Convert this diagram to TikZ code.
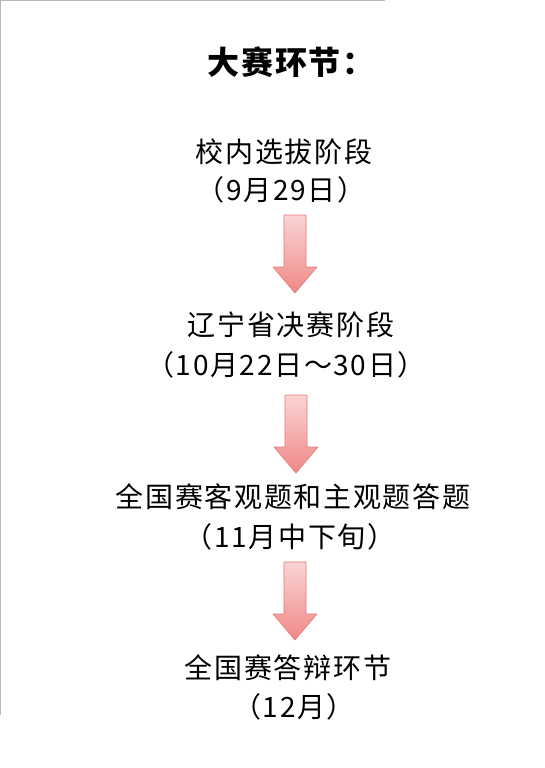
\documentclass[tikz,border=0pt]{standalone}
\usepackage{fontspec}
\newfontfamily\cjk[LetterSpace=6]{Noto Sans CJK SC}
\definecolor{arrowtop}{RGB}{250,212,212}
\definecolor{arrowbot}{RGB}{240,136,136}
\definecolor{arrowline}{RGB}{226,120,120}
\tikzset{
  stage/.style={font=\cjk\fontsize{28}{31}\selectfont, inner sep=0pt},
  blockarrow/.style={top color=arrowtop, bottom color=arrowbot, draw=arrowline,
    line width=0.6pt, line join=round}
}
\begin{document}
\begin{tikzpicture}[x=1pt,y=1pt]
  \useasboundingbox (0,0) rectangle (545,-768);
  \draw[gray!55, line width=1pt] (385,-0.5) -- (0.5,-0.5) -- (0.5,-715);

  \node[font=\cjk\bfseries\fontsize{32}{36}\selectfont, inner sep=0pt] (title) at (291,-62) {大赛环节：};

  \node[stage] (s1) at (284,-152) {校内选拔阶段};
  \node[stage] (d1) at (281,-190) {（9月29日）};
  \node[stage] (s2) at (291,-325) {辽宁省决赛阶段};
  \node[stage] (d2) at (286,-365) {（10月22日～30日）};
  \node[stage] (s3) at (293,-497) {全国赛客观题和主观题答题};
  \node[stage] (d3) at (290,-537) {（11月中下旬）};
  \node[stage] (s4) at (288,-668) {全国赛答辩环节};
  \node[stage] (d4) at (294,-707) {（12月）};

  % arrows between the stages
  \coordinate (arr1) at (295,-215);
  \coordinate (arr2) at (296,-395);
  \coordinate (arr3) at (295,-562);
  \foreach \n in {1,2,3}
    \draw[blockarrow, shift={(arr\n)}] (-11,0) -- (11,0) -- (11,-52) -- (22,-52)
      -- (0,-78) -- (-22,-52) -- (-11,-52) -- cycle;
\end{tikzpicture}
\end{document}
